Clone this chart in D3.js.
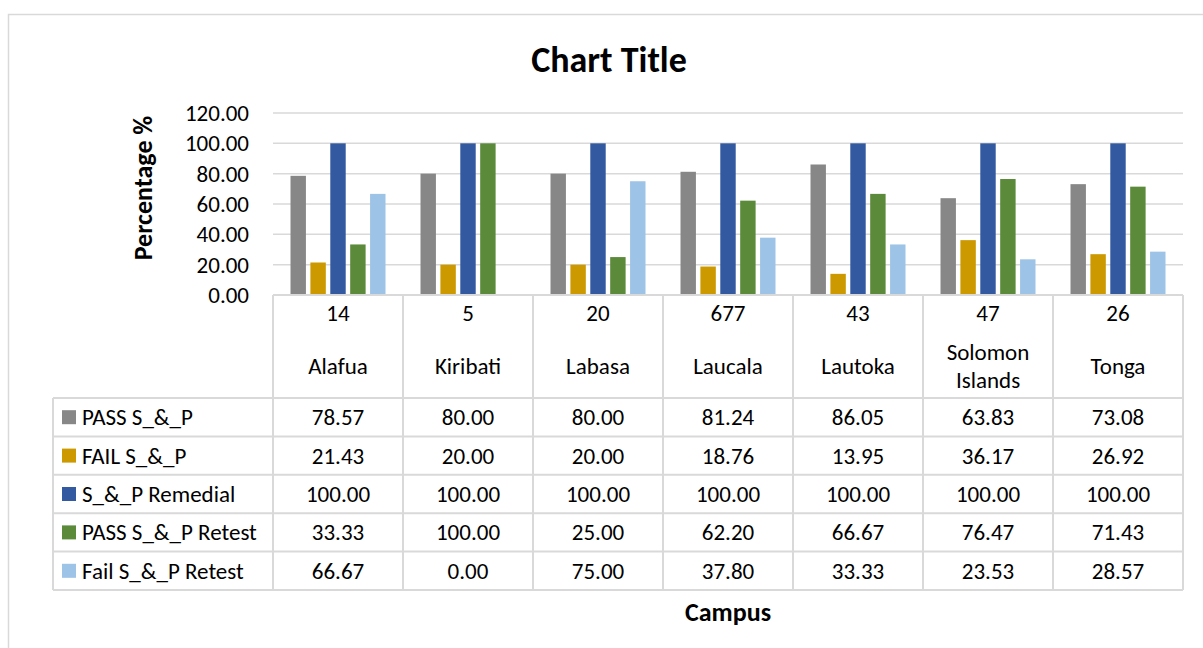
<!DOCTYPE html>
<html>
<head>
<meta charset="utf-8">
<script src="https://cdn.jsdelivr.net/npm/d3@7"></script>
<style>
  body { margin: 0; background: #fff; }
  svg { display: block; font-family: Carlito, Calibri, Lato, sans-serif; }
</style>
</head>
<body>
<svg id="chart" width="1203" height="648"></svg>
<script>
const campuses = ["Alafua", "Kiribati", "Labasa", "Laucala", "Lautoka", "Solomon Islands", "Tonga"];
const counts = [14, 5, 20, 677, 43, 47, 26];
const seriesNames = ["PASS S_&_P", "FAIL S_&_P", "S_&_P Remedial", "PASS S_&_P Retest", "Fail S_&_P Retest"];
const passSP = [78.57, 80.00, 80.00, 81.24, 86.05, 63.83, 73.08];
const failSP = [21.43, 20.00, 20.00, 18.76, 13.95, 36.17, 26.92];
const remedial = [100, 100, 100, 100, 100, 100, 100];
const passRetest = [33.33, 100.00, 25.00, 62.20, 66.67, 76.47, 71.43];
const failRetest = [66.67, 0.00, 75.00, 37.80, 33.33, 23.53, 28.57];
const yTicks = [0, 20, 40, 60, 80, 100, 120];

const seriesValues = [passSP, failSP, remedial, passRetest, failRetest];
const colors = ["#878787", "#CC9A00", "#335AA0", "#5A8A3A", "#9DC3E6"];

const svg = d3.select("#chart");
const gridColor = "#d9d9d9";
const fontSize = 23;

// outer chart border
svg.append("rect")
  .attr("x", 8.5).attr("y", 14.5)
  .attr("width", 1200).attr("height", 640)
  .attr("fill", "none").attr("stroke", gridColor).attr("stroke-width", 1.5);

const plotLeft = 273, plotRight = 1183;
const x = d3.scaleBand().domain(campuses).range([plotLeft, plotRight]);
const xInner = d3.scaleBand().domain(seriesNames)
  .range([17.5, x.bandwidth() - 17.5]).paddingInner(0.225);
const y = d3.scaleLinear().domain([0, 120]).range([295, 113]);

// gridlines
svg.append("g").selectAll("line")
  .data(yTicks.slice(1))
  .join("line")
  .attr("x1", plotLeft).attr("x2", plotRight)
  .attr("y1", d => y(d)).attr("y2", d => y(d))
  .attr("stroke", gridColor).attr("stroke-width", 1.5);

// y axis labels
svg.append("g").selectAll("text")
  .data(yTicks)
  .join("text")
  .attr("x", 249)
  .attr("y", d => y(d))
  .attr("dy", "0.35em")
  .attr("text-anchor", "end")
  .attr("font-size", fontSize)
  .attr("fill", "#000")
  .text(d => d3.format(".2f")(d));

// bars
const groups = svg.append("g").selectAll("g")
  .data(campuses)
  .join("g")
  .attr("transform", d => `translate(${x(d)},0)`);

groups.selectAll("rect")
  .data((c, ci) => seriesNames.map((s, si) => ({ s, si, v: seriesValues[si][ci] })))
  .join("rect")
  .attr("x", d => xInner(d.s))
  .attr("width", xInner.bandwidth())
  .attr("y", d => y(d.v))
  .attr("height", d => y(0) - y(d.v))
  .attr("fill", d => colors[d.si]);

// data table
const headerTop = 295, headerBottom = 398, rowH = 38.4;
const tableLeft = 53;
const tableBottom = headerBottom + rowH * seriesNames.length;
const table = svg.append("g");

// horizontal lines
table.append("line")
  .attr("x1", plotLeft).attr("x2", plotRight)
  .attr("y1", headerTop).attr("y2", headerTop)
  .attr("stroke", gridColor).attr("stroke-width", 2);
d3.range(seriesNames.length + 1).forEach(i => {
  table.append("line")
    .attr("x1", tableLeft).attr("x2", plotRight)
    .attr("y1", headerBottom + i * rowH).attr("y2", headerBottom + i * rowH)
    .attr("stroke", gridColor).attr("stroke-width", 2);
});
// vertical lines
table.append("line")
  .attr("x1", tableLeft).attr("x2", tableLeft)
  .attr("y1", headerBottom).attr("y2", tableBottom)
  .attr("stroke", gridColor).attr("stroke-width", 2);
campuses.concat([null]).forEach((c, i) => {
  const xx = plotLeft + i * x.bandwidth();
  table.append("line")
    .attr("x1", xx).attr("x2", xx)
    .attr("y1", headerTop).attr("y2", tableBottom)
    .attr("stroke", gridColor).attr("stroke-width", 2);
});

// header: counts and campus names
campuses.forEach((c, i) => {
  const cx = x(c) + x.bandwidth() / 2;
  table.append("text")
    .attr("x", cx).attr("y", 313).attr("dy", "0.35em")
    .attr("text-anchor", "middle").attr("font-size", fontSize)
    .text(counts[i]);
  const t = table.append("text")
    .attr("x", cx).attr("text-anchor", "middle").attr("font-size", fontSize);
  const words = c.split(" ");
  if (words.length > 1) {
    words.forEach((w, wi) => {
      t.append("tspan").attr("x", cx).attr("y", 352 + wi * 28).attr("dy", "0.35em").text(w);
    });
  } else {
    t.attr("y", 366).attr("dy", "0.35em").text(c);
  }
});

// legend rows and values
seriesNames.forEach((s, si) => {
  const cy = headerBottom + si * rowH + rowH / 2;
  table.append("rect")
    .attr("x", 62).attr("y", cy - 7).attr("width", 14).attr("height", 14)
    .attr("fill", colors[si]);
  table.append("text")
    .attr("x", 82).attr("y", cy).attr("dy", "0.35em")
    .attr("font-size", fontSize).text(s);
  campuses.forEach((c, ci) => {
    table.append("text")
      .attr("x", x(c) + x.bandwidth() / 2).attr("y", cy).attr("dy", "0.35em")
      .attr("text-anchor", "middle").attr("font-size", fontSize)
      .text(d3.format(".2f")(seriesValues[si][ci]));
  });
});

// titles
svg.append("text")
  .attr("x", 609).attr("y", 59).attr("dy", "0.35em")
  .attr("text-anchor", "middle").attr("font-weight", "bold").attr("font-size", 36)
  .text("Chart Title");

svg.append("text")
  .attr("transform", "translate(143,188) rotate(-90)")
  .attr("dy", "0.35em")
  .attr("text-anchor", "middle").attr("font-weight", "bold").attr("font-size", 26)
  .text("Percentage %");

svg.append("text")
  .attr("x", 728).attr("y", 612).attr("dy", "0.35em")
  .attr("text-anchor", "middle").attr("font-weight", "bold").attr("font-size", 26)
  .text("Campus");
</script>
</body>
</html>
